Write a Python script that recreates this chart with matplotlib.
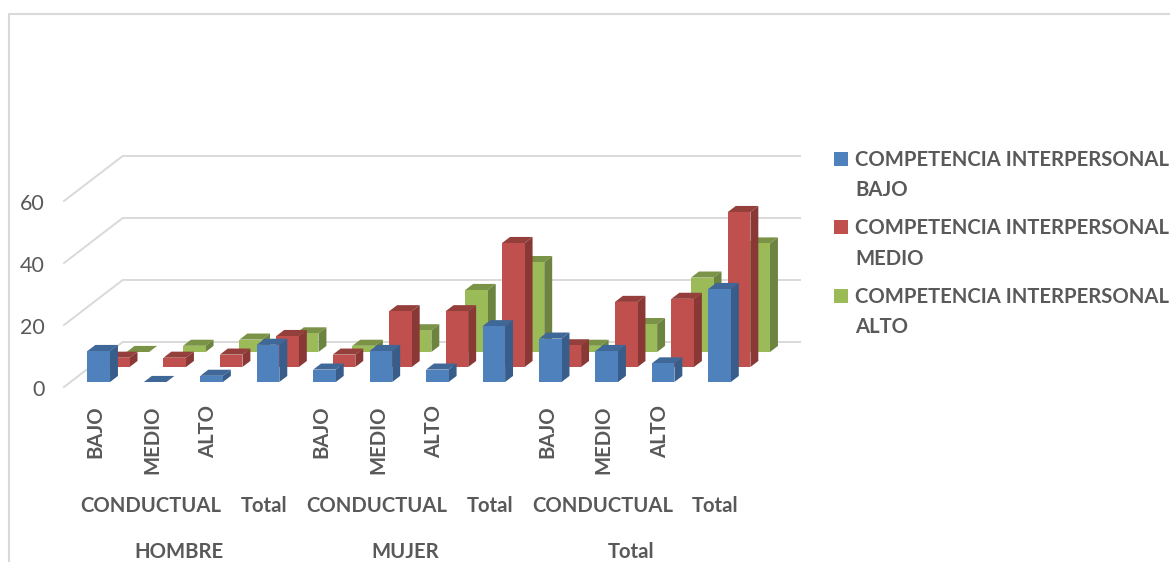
import matplotlib
matplotlib.use("Agg")
import matplotlib.pyplot as plt
from matplotlib.patches import Polygon, Patch, Rectangle
from matplotlib.legend_handler import HandlerPatch

# ---- data ----
level_labels = ["BAJO", "MEDIO", "ALTO", "", "BAJO", "MEDIO", "ALTO", "", "BAJO", "MEDIO", "ALTO", ""]
mid_labels = ["CONDUCTUAL", "Total", "CONDUCTUAL", "Total", "CONDUCTUAL", "Total"]
mid_pos = [1, 3, 5, 7, 9, 11]
top_labels = ["HOMBRE", "MUJER", "Total"]
top_pos = [1.5, 5.5, 9.5]
series_names = ["COMPETENCIA INTERPERSONAL\nBAJO",
                "COMPETENCIA INTERPERSONAL\nMEDIO",
                "COMPETENCIA INTERPERSONAL\nALTO"]
bajo = [10, 0, 2, 12, 4, 10, 4, 18, 14, 10, 6, 30]
medio = [3, 3, 4, 10, 4, 18, 18, 40, 7, 21, 22, 50]
alto = [0, 2, 4, 6, 2, 7, 20, 29, 2, 9, 24, 35]
y_ticks = [0, 20, 40, 60]

# ---- styles ----
front = ["#4F81BD", "#C0504D", "#9BBB59"]
side = ["#385D8A", "#8A3836", "#6D8440"]
top = ["#3F6797", "#953F3C", "#7A9346"]
text_c = "#595959"
grid_c = "#D9D9D9"
FONT = "Lato"
LAB_SIZE = 14.6

# oblique projection (pixel-space axes)
X0, Y0 = 64.0, 387.0
SLOT = 56.44
PX_PER_UNIT = 3.1
DX, DY = 58.7, 45.0
RIGHT_END = 800.0


def proj(slot, value, depth):
    return (X0 + SLOT * slot + DX * depth, Y0 - PX_PER_UNIT * value - DY * depth)


fig = plt.figure(figsize=(11.7, 5.62), dpi=100)
ax = fig.add_axes([0, 0, 1, 1])
ax.set_xlim(0, 1170)
ax.set_ylim(562, 0)
ax.axis("off")

# chart border
ax.plot([9, 9, 1170], [562, 14, 14], color="#D9D9D9", lw=1.5, zorder=1)

# gridlines + y tick labels
for t in y_ticks:
    p0 = proj(0, t, 0)
    p1 = proj(0, t, 1)
    ax.plot([p0[0], p1[0], RIGHT_END], [p0[1], p1[1], p1[1]], color=grid_c, lw=1.4, zorder=1)
    ax.text(45, p0[1] + 3.5, str(t), ha="right", va="center", fontsize=15.5,
            color=text_c, family=FONT)

# bars: back series first
B0 = 0.30
BW = 0.40
THICK = 0.135
zo = 2
for s, vals, d0 in reversed(list(zip(range(3), [bajo, medio, alto], [0.111, 0.444, 0.778]))):
    for i, v in enumerate(vals):
        l, r = i + B0, i + B0 + BW
        d1 = d0 + THICK
        ax.add_patch(Polygon([proj(l, v, d0), proj(r, v, d0), proj(r, v, d1), proj(l, v, d1)],
                             closed=True, fc=top[s], ec="none", zorder=zo))
        ax.add_patch(Polygon([proj(r, 0, d0), proj(r, v, d0), proj(r, v, d1), proj(r, 0, d1)],
                             closed=True, fc=side[s], ec="none", zorder=zo))
        ax.add_patch(Polygon([proj(l, 0, d0), proj(r, 0, d0), proj(r, v, d0), proj(l, v, d0)],
                             closed=True, fc=front[s], ec="none", zorder=zo))
        zo += 1

# category labels
for i, lab in enumerate(level_labels):
    if lab:
        x = X0 + SLOT * (i + 0.5) + 3.5
        ax.text(x, 405, lab, rotation=90, ha="center", va="top", fontsize=LAB_SIZE,
                fontweight="bold", color=text_c, family=FONT)
for p, lab in zip(mid_pos, mid_labels):
    ax.text(X0 + SLOT * (p + 0.5) + 2.5, 506.5, lab, ha="center", va="center", fontsize=LAB_SIZE,
            fontweight="bold", color=text_c, family=FONT)
for p, lab in zip(top_pos, top_labels):
    ax.text(X0 + SLOT * (p + 0.5) + 2.5, 558, lab, ha="center", va="baseline", fontsize=LAB_SIZE,
            fontweight="bold", color=text_c, family=FONT)


# legend: swatch aligned with the first line of each two-line entry
def swatch(legend, orig_handle, xdescent, ydescent, width, height, fontsize):
    return Rectangle((xdescent, ydescent + 12.5), width, 10.2)


handles = [Patch(fc=c, ec="none") for c in front]
leg = ax.legend(handles, series_names, loc="upper left", bbox_to_anchor=(834, 150),
                bbox_transform=ax.transData, frameon=False, borderpad=0, borderaxespad=0,
                handlelength=0.69, handletextpad=0.34, labelspacing=0.89,
                prop={"family": FONT, "weight": "bold", "size": LAB_SIZE},
                labelcolor=text_c,
                handler_map={Patch: HandlerPatch(patch_func=swatch)})
for t in leg.get_texts():
    t.set_linespacing(1.65)

fig.savefig("out.png", dpi=100)
